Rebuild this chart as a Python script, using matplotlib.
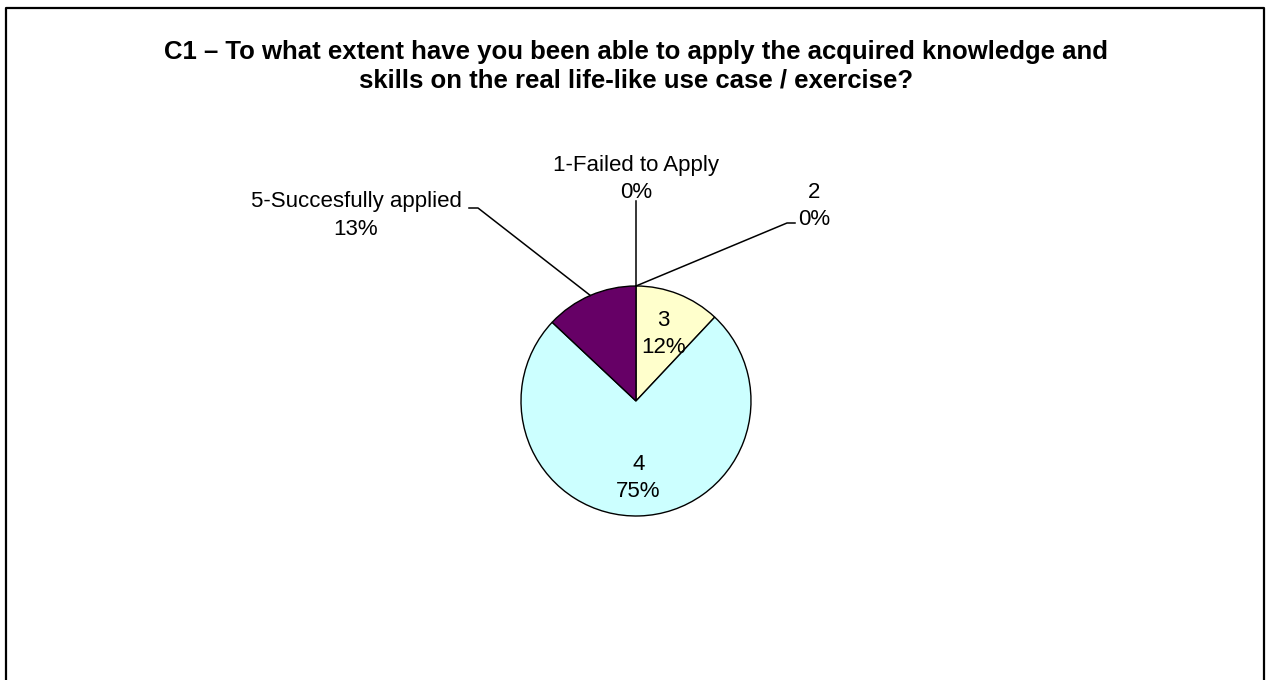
import numpy as np
import matplotlib
matplotlib.use("Agg")
import matplotlib.pyplot as plt
from matplotlib.lines import Line2D

categories = ["1-Failed to Apply", "2", "3", "4", "5-Succesfully applied"]
values = [0, 0, 12, 75, 13]
pct_labels = ["0%", "0%", "12%", "75%", "13%"]
colors = ["#9999FF", "#993366", "#FFFFCC", "#CCFFFF", "#660066"]
title_lines = ["C1 \u2013 To what extent have you been able to apply the acquired knowledge and",
               "skills on the real life-like use case / exercise?"]

plt.rcParams['font.family'] = ['Liberation Sans', 'DejaVu Sans']

W, H = 1269, 680
fig = plt.figure(figsize=(W / 100, H / 100), dpi=100)

cx, cy, R = 636, 401, 115
ax = fig.add_axes([(cx - R) / W, (H - cy - R) / H, 2 * R / W, 2 * R / H])
ax.set_axis_off()

wedges, _ = ax.pie(values, colors=colors, startangle=90, counterclock=False,
                   radius=1, wedgeprops=dict(edgecolor="black", linewidth=1.0),
                   frame=False)
ax.set_xlim(-1, 1)
ax.set_ylim(-1, 1)
ax.set_aspect("equal")


def dx(px):
    return (px - cx) / R


def dy(py):
    return (cy - py) / R


fs = 16
LS = 27  # line spacing in px


def two_lines(x_px, base1_px, l1, l2, spacing=LS):
    ax.text(dx(x_px), dy(base1_px), l1, ha="center", va="baseline", fontsize=fs, clip_on=False)
    ax.text(dx(x_px), dy(base1_px + spacing), l2, ha="center", va="baseline", fontsize=fs,
            clip_on=False)


# outside labels: (label center x, first baseline, leader points in px)
outside = {
    0: (636, 171, [(636, 201)]),
    1: (814, 198, [(787, 223), (795, 223)]),
    4: (356, 207, [(478, 208), (469, 208)]),
}
for i, w in enumerate(wedges):
    mid = np.deg2rad((w.theta1 + w.theta2) / 2)
    ex, ey = np.cos(mid), np.sin(mid)
    if i in outside:
        tx, b1, pts = outside[i]
        xs = [ex] + [dx(p[0]) for p in pts]
        ys = [ey] + [dy(p[1]) for p in pts]
        ax.add_line(Line2D(xs, ys, color="black", lw=1.1, clip_on=False))
        two_lines(tx, b1, categories[i], pct_labels[i], 27 if i != 4 else 28)
    else:
        r = 0.65
        bx = cx + r * R * ex
        by = cy - r * R * ey
        two_lines(bx, by - 5.5, categories[i], pct_labels[i], 27)

fig.text(cx / W, 1 - 59 / H, title_lines[0], ha="center", va="baseline", fontsize=18.5,
         fontweight="bold")
fig.text(cx / W, 1 - 88 / H, title_lines[1], ha="center", va="baseline", fontsize=18.5,
         fontweight="bold")

# outer border (left, top, right)
fig.add_artist(Line2D([6 / W, 6 / W, 1264 / W, 1264 / W], [0, 1 - 8 / H, 1 - 8 / H, 0],
                      transform=fig.transFigure, color="black", lw=1.6))

fig.savefig("out.png", dpi=100)
